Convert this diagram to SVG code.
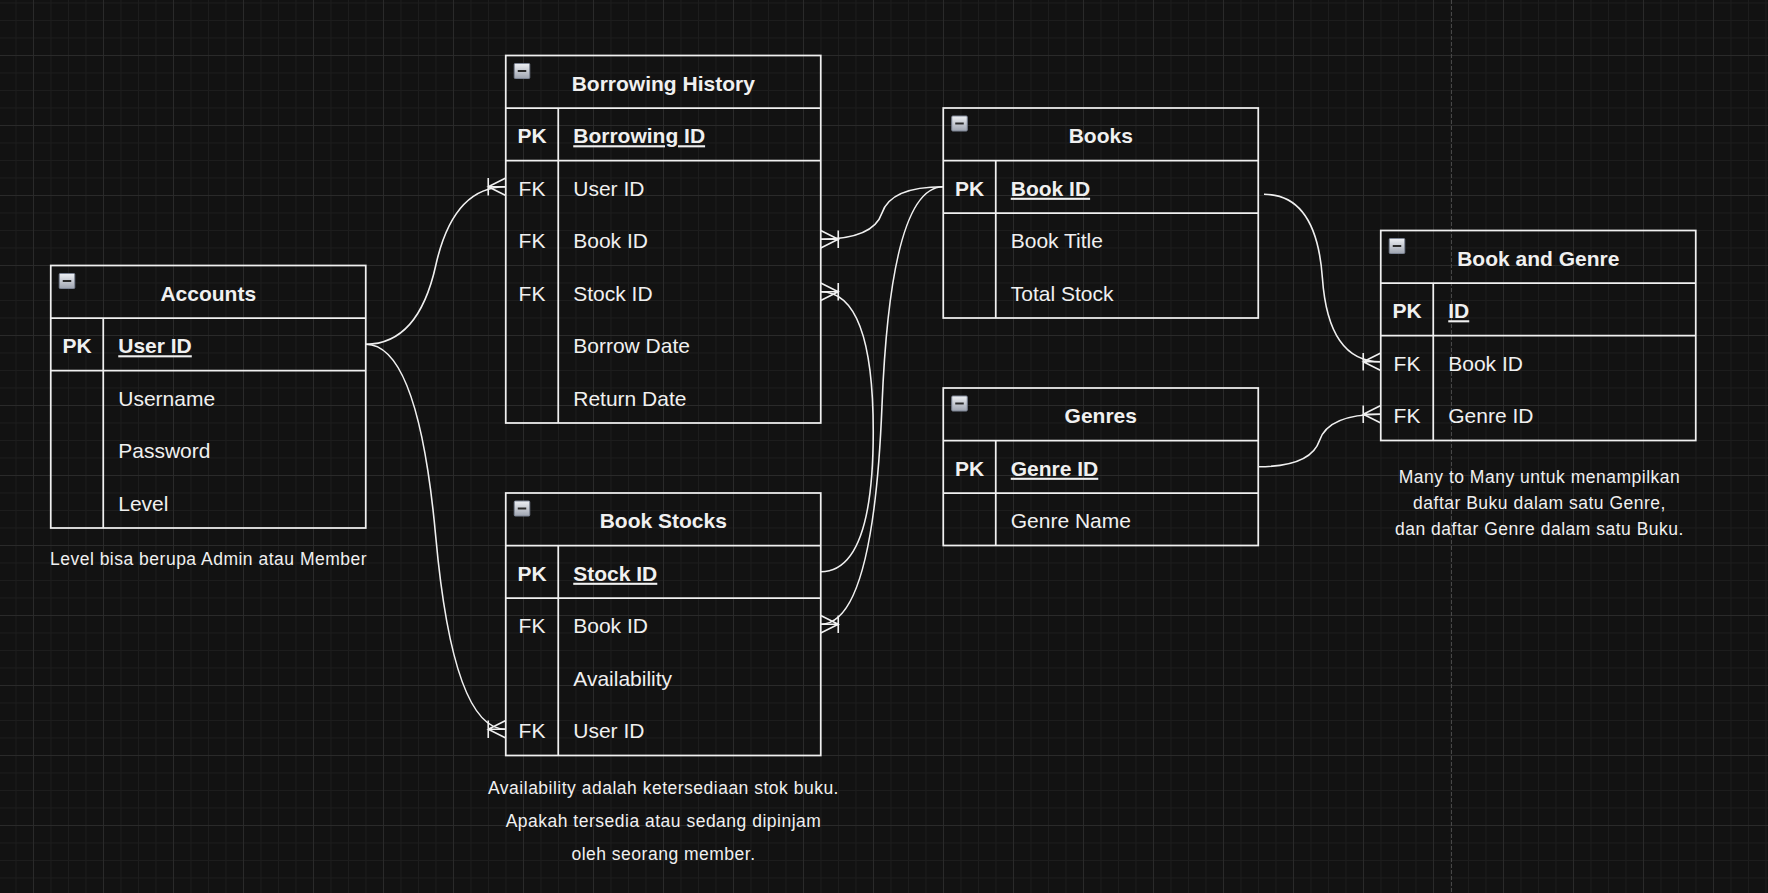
<svg xmlns="http://www.w3.org/2000/svg" xmlns:xlink="http://www.w3.org/1999/xlink" width="1768" height="893" viewBox="0 0 1768 893">
<style>
  text { font-family: "Liberation Sans", Arial, Helvetica, sans-serif; fill: #f0f0f0; font-size: 21px; }
  .title { font-weight: bold; text-anchor: middle; }
  .key { text-anchor: middle; }
  .pk { font-weight: bold; }
  .pkname { font-weight: bold; text-decoration: underline; }
  .note { font-size: 17.5px; letter-spacing: 0.5px; text-anchor: middle; }
  .box { fill: none; stroke: #f0f0f0; stroke-width: 1.75; }
  .sep { stroke: #f0f0f0; stroke-width: 1.75; fill: none; }
  .edge { fill: none; stroke: #f0f0f0; stroke-width: 1.6; marker-end: url(#crow); }
</style>
<defs>
  <pattern id="gridMinor" patternUnits="userSpaceOnUse" x="33" y="55" width="17.5" height="17.5">
    <path d="M0 0.5 H17.5 M0.5 0 V17.5" stroke="#1d1d1d" stroke-width="1" fill="none"/>
  </pattern>
  <pattern id="gridMajor" patternUnits="userSpaceOnUse" x="33" y="55" width="70" height="70">
    <path d="M0 0.5 H70 M0.5 0 V70" stroke="#2a2a2a" stroke-width="1" fill="none"/>
  </pattern>
  <linearGradient id="iconGrad" x1="0" y1="0" x2="0" y2="1">
    <stop offset="0" stop-color="#eef0f4"/>
    <stop offset="1" stop-color="#9ea4b0"/>
  </linearGradient>
  <g id="collapse">
    <rect x="0" y="0" width="15.5" height="15" rx="1" fill="url(#iconGrad)" stroke="#7c8494" stroke-width="1"/>
    <path d="M3.5 7.5 H12" stroke="#2a2a2a" stroke-width="2"/>
  </g>
  <marker id="crow" viewBox="-20 -12 24 24" refX="0" refY="0" markerWidth="24" markerHeight="24" markerUnits="userSpaceOnUse" orient="auto" overflow="visible">
    <path d="M0 -8.75 L-17.5 0 L0 8.75 M0 0 L-17.5 0 M-17.5 -8.75 L-17.5 8.75" fill="none" stroke="#f0f0f0" stroke-width="1.6"/>
  </marker>
</defs>

<g id="background">
  <rect x="0" y="0" width="1768" height="893" fill="#121212"/>
  <rect x="0" y="0" width="1768" height="893" fill="url(#gridMinor)"/>
  <rect x="0" y="0" width="1768" height="893" fill="url(#gridMajor)"/>
  <path d="M1451.5 0 V893" stroke="#474747" stroke-width="1" stroke-dasharray="4 2"/>
</g>

<g id="connectors">
  <path class="edge" d="M365.75,344.25 Q418.25,344.25 435.75,265.5 Q453.25,186.75 505.75,186.75"/>
  <path class="edge" d="M365.75,344.25 Q418.25,344.25 435.75,536.75 Q453.25,729.25 505.75,729.25"/>
  <path class="edge" d="M943.25,186.75 Q890.75,186.75 882,213 Q873.25,239.25 820.75,239.25"/>
  <path class="edge" d="M943.25,186.75 Q890.75,186.75 882,405.5 Q873.25,624.25 820.75,624.25"/>
  <path class="edge" d="M820.75,571.75 Q873.25,571.75 873.25,431.75 Q873.25,291.75 820.75,291.75"/>
  <path class="edge" d="M1264,194.3 Q1316.5,194.3 1322.4,278 Q1328.25,361.75 1380.75,361.75"/>
  <path class="edge" d="M1258.25,466.75 Q1310.75,466.75 1319.5,440.5 Q1328.25,414.25 1380.75,414.25"/>
</g>

<g id="accounts">
  <rect class="box" x="50.75" y="265.5" width="315" height="262.5"/>
  <path class="sep" d="M50.75 318 H365.75 M50.75 370.5 H365.75 M103.25 318 V528"/>
  <use xlink:href="#collapse" href="#collapse" x="59.25" y="273.5"/>
  <text class="title" x="208.25" y="300.75">Accounts</text>
  <text class="key pk" x="77" y="353.25">PK</text>
  <text class="pkname" x="118.25" y="353.25">User ID</text>
  <text x="118.25" y="405.75">Username</text>
  <text x="118.25" y="458.25">Password</text>
  <text x="118.25" y="510.75">Level</text>
</g>
<g id="accounts-note">
  <text class="note" x="208.5" y="565">Level bisa berupa Admin atau Member</text>
</g>

<g id="borrowing-history">
  <rect class="box" x="505.75" y="55.5" width="315" height="367.5"/>
  <path class="sep" d="M505.75 108 H820.75 M505.75 160.5 H820.75 M558.25 108 V423"/>
  <use xlink:href="#collapse" href="#collapse" x="514.25" y="63.5"/>
  <text class="title" x="663.25" y="90.75">Borrowing History</text>
  <text class="key pk" x="532" y="143.25">PK</text>
  <text class="pkname" x="573.25" y="143.25">Borrowing ID</text>
  <text class="key" x="532" y="195.75">FK</text>
  <text x="573.25" y="195.75">User ID</text>
  <text class="key" x="532" y="248.25">FK</text>
  <text x="573.25" y="248.25">Book ID</text>
  <text class="key" x="532" y="300.75">FK</text>
  <text x="573.25" y="300.75">Stock ID</text>
  <text x="573.25" y="353.25">Borrow Date</text>
  <text x="573.25" y="405.75">Return Date</text>
</g>

<g id="book-stocks">
  <rect class="box" x="505.75" y="493" width="315" height="262.5"/>
  <path class="sep" d="M505.75 545.5 H820.75 M505.75 598 H820.75 M558.25 545.5 V755.5"/>
  <use xlink:href="#collapse" href="#collapse" x="514.25" y="501"/>
  <text class="title" x="663.25" y="528.25">Book Stocks</text>
  <text class="key pk" x="532" y="580.75">PK</text>
  <text class="pkname" x="573.25" y="580.75">Stock ID</text>
  <text class="key" x="532" y="633.25">FK</text>
  <text x="573.25" y="633.25">Book ID</text>
  <text x="573.25" y="685.75">Availability</text>
  <text class="key" x="532" y="738.25">FK</text>
  <text x="573.25" y="738.25">User ID</text>
</g>
<g id="book-stocks-note">
  <text class="note" x="663.5" y="793.7">Availability adalah ketersediaan stok buku.</text>
  <text class="note" x="663.5" y="827">Apakah tersedia atau sedang dipinjam</text>
  <text class="note" x="663.5" y="860.3">oleh seorang member.</text>
</g>

<g id="books">
  <rect class="box" x="943.25" y="108" width="315" height="210"/>
  <path class="sep" d="M943.25 160.5 H1258.25 M943.25 213 H1258.25 M995.75 160.5 V318"/>
  <use xlink:href="#collapse" href="#collapse" x="951.75" y="116"/>
  <text class="title" x="1100.75" y="143.25">Books</text>
  <text class="key pk" x="969.5" y="195.75">PK</text>
  <text class="pkname" x="1010.75" y="195.75">Book ID</text>
  <text x="1010.75" y="248.25">Book Title</text>
  <text x="1010.75" y="300.75">Total Stock</text>
</g>

<g id="genres">
  <rect class="box" x="943.25" y="388" width="315" height="157.5"/>
  <path class="sep" d="M943.25 440.5 H1258.25 M943.25 493 H1258.25 M995.75 440.5 V545.5"/>
  <use xlink:href="#collapse" href="#collapse" x="951.75" y="396"/>
  <text class="title" x="1100.75" y="423.25">Genres</text>
  <text class="key pk" x="969.5" y="475.75">PK</text>
  <text class="pkname" x="1010.75" y="475.75">Genre ID</text>
  <text x="1010.75" y="528.25">Genre Name</text>
</g>

<g id="book-and-genre">
  <rect class="box" x="1380.75" y="230.5" width="315" height="210"/>
  <path class="sep" d="M1380.75 283 H1695.75 M1380.75 335.5 H1695.75 M1433.25 283 V440.5"/>
  <use xlink:href="#collapse" href="#collapse" x="1389.25" y="238.5"/>
  <text class="title" x="1538.25" y="265.75">Book and Genre</text>
  <text class="key pk" x="1407" y="318.25">PK</text>
  <text class="pkname" x="1448.25" y="318.25">ID</text>
  <text class="key" x="1407" y="370.75">FK</text>
  <text x="1448.25" y="370.75">Book ID</text>
  <text class="key" x="1407" y="423.25">FK</text>
  <text x="1448.25" y="423.25">Genre ID</text>
</g>
<g id="book-and-genre-note">
  <text class="note" x="1539.5" y="483.3">Many to Many untuk menampilkan</text>
  <text class="note" x="1539.5" y="509">daftar Buku dalam satu Genre,</text>
  <text class="note" x="1539.5" y="534.5">dan daftar Genre dalam satu Buku.</text>
</g>
</svg>
